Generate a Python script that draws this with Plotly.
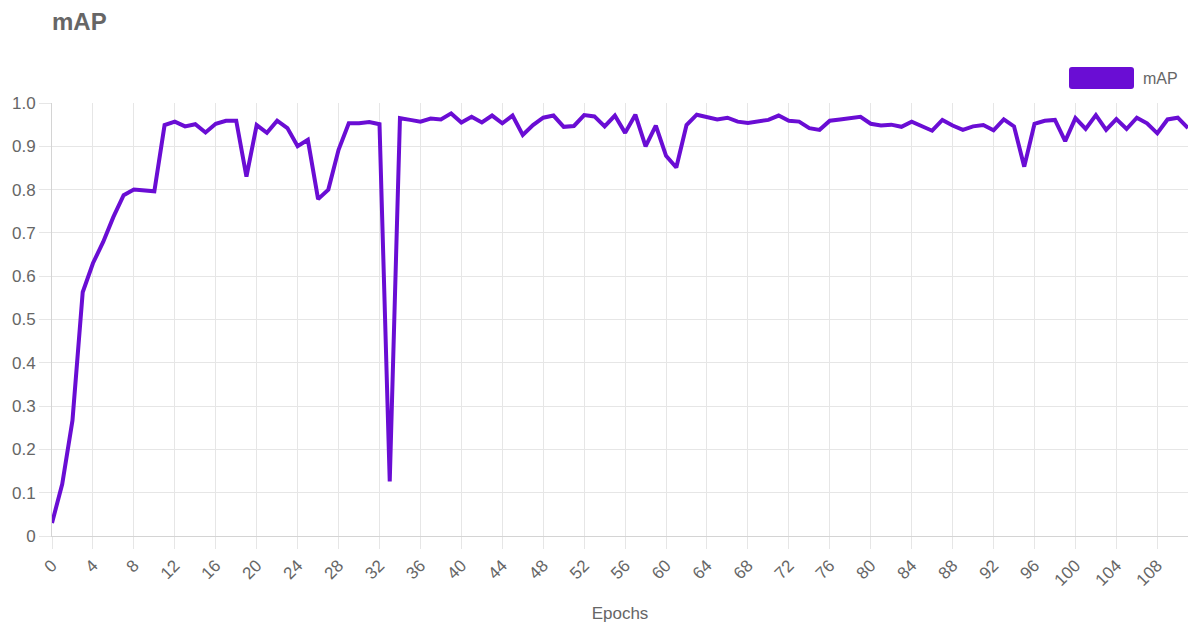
import plotly.graph_objects as go

epochs = list(range(112))
map_values = [
    0.03, 0.12, 0.267, 0.563, 0.63, 0.679, 0.737, 0.787, 0.80, 0.798,
    0.796, 0.949, 0.957, 0.946, 0.951, 0.932, 0.952, 0.959, 0.959, 0.83,
    0.949, 0.931, 0.959, 0.942, 0.90, 0.915, 0.778, 0.80, 0.892, 0.953,
    0.953, 0.956, 0.951, 0.126, 0.965, 0.961, 0.957, 0.964, 0.962, 0.976,
    0.955, 0.968, 0.955, 0.971, 0.953, 0.971, 0.926, 0.949, 0.966, 0.971,
    0.945, 0.947, 0.972, 0.969, 0.946, 0.971, 0.931, 0.973, 0.90, 0.948,
    0.878, 0.851, 0.949, 0.973, 0.967, 0.962, 0.966, 0.957, 0.954, 0.957,
    0.961, 0.971, 0.959, 0.957, 0.942, 0.938, 0.959, 0.962, 0.966, 0.968,
    0.952, 0.948, 0.95, 0.945, 0.957, 0.946, 0.936, 0.961, 0.948, 0.938,
    0.946, 0.949, 0.937, 0.962, 0.946, 0.853, 0.952, 0.959, 0.961, 0.912,
    0.965, 0.94, 0.972, 0.938, 0.963, 0.94, 0.966, 0.953, 0.93, 0.962,
    0.966, 0.942,
]
series_name = "mAP"
chart_title = "mAP"
x_title = "Epochs"
y_tick_values = [0, 0.1, 0.2, 0.3, 0.4, 0.5, 0.6, 0.7, 0.8, 0.9, 1.0]
y_tick_labels = ["0", "0.1", "0.2", "0.3", "0.4", "0.5", "0.6", "0.7", "0.8", "0.9", "1.0"]

LINE = "#6a0dd4"
GRID = "#e6e6e6"
TXT = "#666666"
FONT = "Liberation Sans, Arial, sans-serif"

OFF = 8  # page body margin
W, H = 1198 - OFF, 623 - OFF
L, R, T = 52 - OFF, 10, 103 - OFF
B = H - (536 - OFF)
pw, ph = W - L - R, H - T - B

def px_x(px):
    return (px - OFF - L) / pw

def px_y(py):
    return (H - B - (py - OFF)) / ph

fig = go.Figure()
fig.add_trace(go.Scatter(
    x=epochs, y=map_values, mode="lines", name=series_name,
    line=dict(color=LINE, width=4), showlegend=False,
))

# legend (Chart.js style box + label), rounded rectangle
x0, x1, y0, y1 = px_x(1069), px_x(1134), px_y(89), px_y(67)
rx, ry = 3 / pw, 3 / ph
path = (f"M {x0+rx},{y0} L {x1-rx},{y0} Q {x1},{y0} {x1},{y0+ry} "
        f"L {x1},{y1-ry} Q {x1},{y1} {x1-rx},{y1} L {x0+rx},{y1} "
        f"Q {x0},{y1} {x0},{y1-ry} L {x0},{y0+ry} Q {x0},{y0} {x0+rx},{y0} Z")
fig.add_shape(type="path", xref="paper", yref="paper", path=path,
              fillcolor=LINE, line=dict(width=0))
fig.add_annotation(text=series_name, xref="paper", yref="paper",
                   x=px_x(1141), y=px_y(78), xanchor="left", yanchor="middle",
                   showarrow=False, font=dict(family=FONT, size=16, color=TXT))

fig.update_layout(
    template="none",
    width=W, height=H,
    margin=dict(l=L, r=R, t=T, b=B, autoexpand=False),
    paper_bgcolor="white", plot_bgcolor="white",
    title=dict(text=chart_title, x=(52 - OFF) / W, xanchor="left", xref="container",
               y=1 - (22 - OFF) / H, yanchor="middle", yref="container",
               font=dict(family=FONT, size=24, color=TXT, weight="bold")),
    font=dict(family=FONT, color=TXT, size=16),
    xaxis=dict(range=[0, 111], tick0=0, dtick=4, tickangle=-45, automargin=False,
               showgrid=True, gridcolor=GRID, gridwidth=1,
               ticks="outside", ticklen=12, tickcolor=GRID, tickwidth=1,
               showline=True, linecolor="#d4d4d4", linewidth=1,
               zeroline=False, tickfont=dict(size=17, color=TXT),
               title=dict(text=x_title, font=dict(size=17, color=TXT), standoff=20)),
    yaxis=dict(range=[0, 1.0], tickvals=y_tick_values, ticktext=y_tick_labels,
               automargin=False,
               showgrid=True, gridcolor=GRID, gridwidth=1,
               ticks="outside", ticklen=12, tickcolor=GRID, tickwidth=1,
               showline=True, linecolor="#d4d4d4", linewidth=1,
               zeroline=False, tickfont=dict(size=17, color=TXT)),
)

fig.write_html("out.html")
